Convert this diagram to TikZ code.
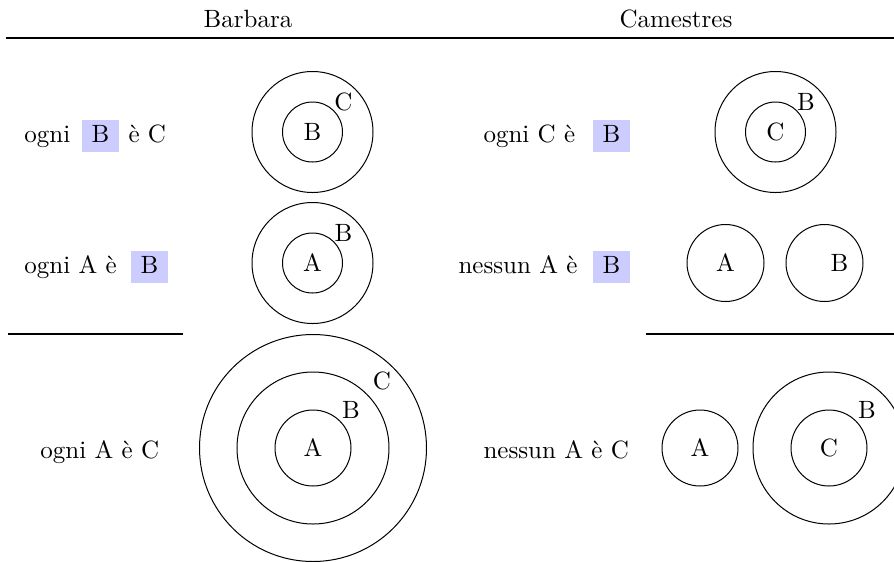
\documentclass[tikz,border=0pt]{standalone}
\usepackage{xcolor}
\definecolor{hl}{RGB}{204,204,255}
\begin{document}
\begin{tikzpicture}[x=0.4pt,y=-0.4pt,
  txt/.style={anchor=base west,inner sep=0pt,font=\fontsize{10}{12}\selectfont},
  hdr/.style={anchor=base,inner sep=0pt,font=\fontsize{10}{12}\selectfont},
  hlbox/.style={anchor=base,fill=hl,inner xsep=3.86pt,inner ysep=2pt,text height=6.83pt,text depth=2pt,font=\fontsize{10}{12}\selectfont},
  ring/.style={circle,draw,line width=0.4pt,inner sep=0pt,minimum size=#1},
  lab/.style={inner sep=0pt,font=\fontsize{10}{12}\selectfont},
  rule/.style={line width=0.5pt}]
\useasboundingbox (0,0) rectangle (894,561);
% headers
\node[hdr] (hb) at (248,27) {Barbara};
\node[hdr] (hc) at (676,27) {Camestres};
\coordinate (t1) at (6,38); \coordinate (t2) at (894,38);
\draw[rule] (t1) -- (t2);
% ---------- Barbara ----------
% row 1
\node[txt] (l1a) at (24,142) {ogni};
\node[hlbox] (l1b) at (100.5,142) {B};
\node[txt] (l1c) at (128,142) {è C};
\node[ring=48.4pt] (c1o) at (312.5,132) {};
\node[ring=24pt] (c1i) at (312.5,132) {};
\node[lab] (c1lb) at (312.5,132) {B};
\node[lab] (c1lc) at (343.5,102) {C};
% row 2
\node[txt] (l2a) at (24,273) {ogni A è};
\node[hlbox] (l2b) at (149.5,273) {B};
\node[ring=48.4pt] (c2o) at (312.5,263) {};
\node[ring=24pt] (c2i) at (312.5,263) {};
\node[lab] (c2la) at (312.5,263) {A};
\node[lab] (c2lb) at (343.5,233) {B};
\coordinate (r1a) at (8,334); \coordinate (r1b) at (183,334);
\draw[rule] (r1a) -- (r1b);
% row 3
\node[txt] (l3a) at (40,458) {ogni A è C};
\node[ring=90.8pt] (c3o) at (313,448) {};
\node[ring=60.8pt] (c3m) at (313,448) {};
\node[ring=30.4pt] (c3i) at (313,448) {};
\node[lab] (c3la) at (313,448) {A};
\node[lab] (c3lb) at (351,410) {B};
\node[lab] (c3lc) at (382,381) {C};
% ---------- Camestres ----------
% row 1
\node[txt] (m1a) at (483,142) {ogni C è};
\node[hlbox] (m1b) at (611.5,142) {B};
\node[ring=48.4pt] (d1o) at (775.5,132) {};
\node[ring=24pt] (d1i) at (775.5,132) {};
\node[lab] (d1lc) at (775.5,132) {C};
\node[lab] (d1lb) at (806,102) {B};
% row 2
\node[txt] (m2a) at (458,273) {nessun A è};
\node[hlbox] (m2b) at (611.5,273) {B};
\node[ring=30.8pt] (d2a) at (725.5,263) {};
\node[ring=30.8pt] (d2b) at (824.5,263) {};
\node[lab] (d2la) at (725.5,263) {A};
\node[lab] (d2lb) at (839.5,263) {B};
\coordinate (r2a) at (646,334); \coordinate (r2b) at (894,334);
\draw[rule] (r2a) -- (r2b);
% row 3
\node[txt] (m3a) at (483,458) {nessun A è C};
\node[ring=30.4pt] (d3a) at (700,448) {};
\node[ring=60.8pt] (d3o) at (829,448) {};
\node[ring=30.4pt] (d3i) at (829,448) {};
\node[lab] (d3la) at (700,448) {A};
\node[lab] (d3lc) at (829,448) {C};
\node[lab] (d3lb) at (867,410) {B};
\end{tikzpicture}
\end{document}
